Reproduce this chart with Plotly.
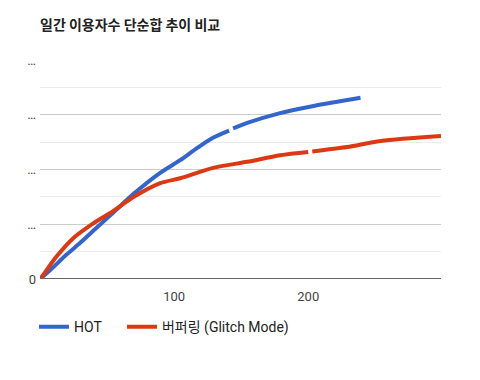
import plotly.graph_objects as go

hot_x = [0, 7.5, 20, 30, 42, 54.5, 70, 89.6, 104.5, 117, 129, 141, None, 144, 154.5, 179, 204, 239]
hot_y = [0, 1.6, 4.5, 6.6, 9.3, 12.1, 15.6, 19.4, 21.7, 23.9, 25.8, 27.1, None, 27.5, 28.5, 30.3, 31.6, 33.1]

glitch_x = [0, 3.7, 12, 25, 40, 54.5, 70, 89.6, 104.5, 129, 154.5, 179, 200, None, 203, 229, 254, 299]
glitch_y = [0, 1.2, 4.0, 7.5, 10.2, 12.4, 15.0, 17.5, 18.4, 20.3, 21.4, 22.6, 23.2, None, 23.3, 24.1, 25.2, 26.1]

y_ticks = [0, 10, 20, 30, 40]
y_ticktext = ["0", "…", "…", "…", "…"]
x_ticks = [100, 200]

FONT = "Roboto, Noto Sans CJK KR, sans-serif"

fig = go.Figure()
fig.add_trace(go.Scatter(x=hot_x, y=hot_y, mode="lines", name="HOT",
                         line=dict(color="#3366CC", width=4, shape="spline", smoothing=0.8),
                         connectgaps=False, legend="legend"))
fig.add_trace(go.Scatter(x=glitch_x, y=glitch_y, mode="lines", name="버퍼링 (Glitch Mode)",
                         line=dict(color="#DC3912", width=4, shape="spline", smoothing=0.8),
                         connectgaps=False, legend="legend2"))

legend_common = dict(orientation="h", xref="paper", y=-0.22, yanchor="middle",
                     xanchor="left", font=dict(size=14, color="#222"), itemwidth=30,
                     bgcolor="rgba(0,0,0,0)")

# page body has an 8px margin; figure sized/offset to place the plot area as in the reference
fig.update_layout(
    width=472, height=372,
    margin=dict(l=32, r=39, t=52, b=101),
    paper_bgcolor="white", plot_bgcolor="white",
    font=dict(family=FONT, size=13, color="#444"),
    title=dict(text="<b>일간 이용자수 단순합 추이 비교</b>", x=32/472, xanchor="left",
               y=1-17/372, yanchor="middle",
               font=dict(family="Noto Sans CJK KR, sans-serif", size=14, color="#222")),
    showlegend=True,
    legend=dict(x=-0.015, **legend_common),
    legend2=dict(x=(128-40)/401 - 0.015, **legend_common),
    xaxis=dict(range=[0, 299], tickvals=x_ticks, showgrid=False, zeroline=False,
               showline=False, ticks="", tickfont=dict(size=13, color="#444"),
               ticklabelstandoff=8),
    yaxis=dict(range=[0, 40], tickvals=y_ticks, ticktext=y_ticktext, showgrid=True,
               gridcolor="#cccccc", gridwidth=1, zeroline=False, ticks="",
               tickfont=dict(size=13, color="#444"), ticklabelstandoff=3,
               minor=dict(dtick=5, showgrid=True, gridcolor="#ebebeb", gridwidth=1)),
)
fig.add_shape(type="line", xref="paper", yref="y", x0=0, x1=1, y0=0, y1=0,
              line=dict(color="#666", width=2), layer="above")
fig.write_html("out.html")
